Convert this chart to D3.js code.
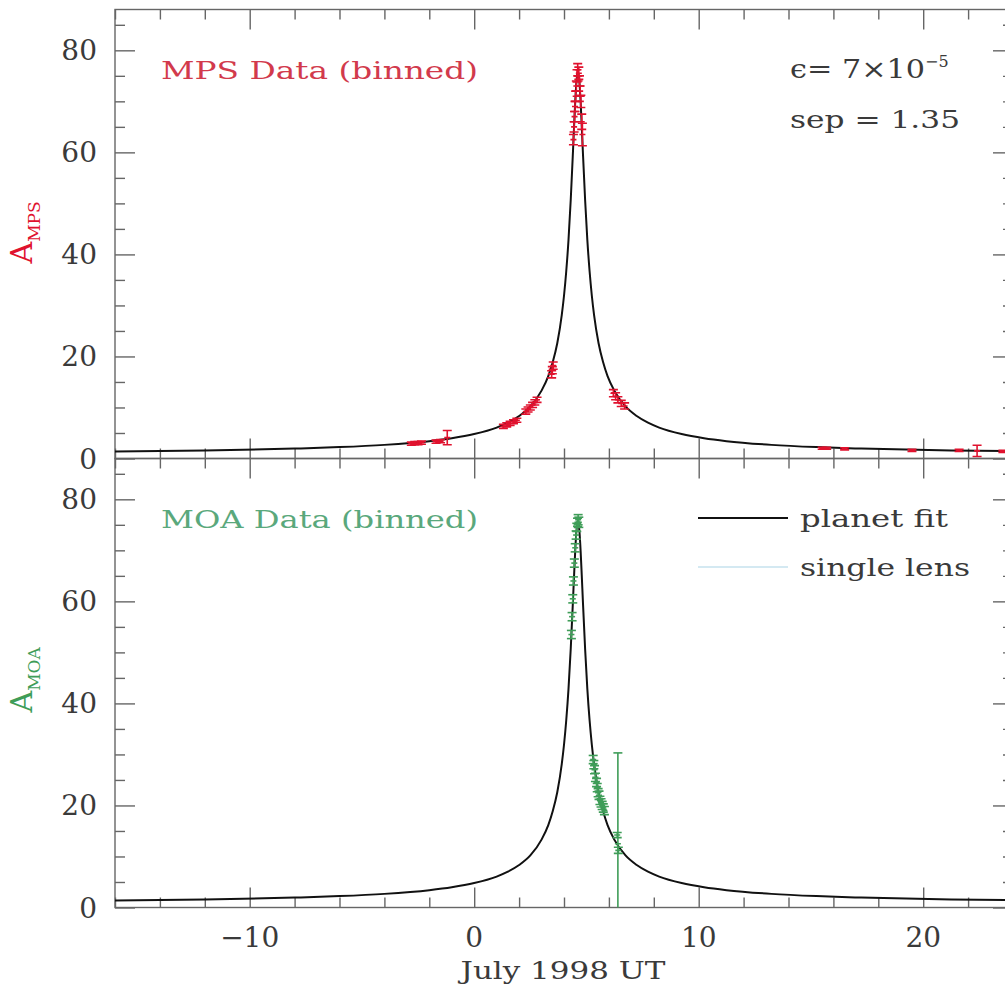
<!DOCTYPE html>
<html>
<head>
<meta charset="utf-8">
<script src="https://cdn.jsdelivr.net/npm/d3@7"></script>
<style>
  body { margin: 0; background: #fff; }
  svg text { font-family: "DejaVu Serif", serif; }
</style>
</head>
<body>
<svg id="chart" width="1005" height="990"></svg>
<script>
// planet fit (t in days, July 1998 UT)
var fitT = [-16, -12, -8, -6, -4, -2, -1, 0, 1, 1.5, 2, 2.5, 3, 3.3, 3.5, 3.7, 3.9, 4.0, 4.1, 4.2, 4.3, 4.4, 4.45, 4.5, 4.55, 4.59, 4.62,
            4.65, 4.69, 4.74, 4.79, 4.84, 4.94, 5.04, 5.14, 5.24, 5.34, 5.54, 5.74, 5.94, 6.24, 6.74, 7.24, 7.74, 8.24, 9.24, 10.24, 11.24, 13.24, 15.24, 17.24, 21.24, 24];
var fitA = [1.38, 1.58, 1.94, 2.23, 2.67, 3.40, 3.97, 4.79, 6.06, 7.01, 8.32, 10.2, 13.3, 16.15, 18.9, 22.6, 28.1, 31.9, 36.7, 42.8, 50.7, 60.2, 65.2, 69.9, 73.6, 75.3, 75.8,
            75.3, 73.6, 69.9, 65.2, 60.2, 50.7, 42.8, 36.7, 31.9, 28.1, 22.6, 18.9, 16.15, 13.3, 10.2, 8.32, 7.01, 6.06, 4.79, 3.97, 3.40, 2.67, 2.23, 1.94, 1.58, 1.43];

// MPS binned points
var mpsT = [-2.8, -2.65, -2.5, -2.35, -1.7, -1.5, -1.2, 1.3, 1.45, 1.6, 1.75, 1.9, 2.3, 2.4, 2.5, 2.6, 2.7, 2.8, 3.45, 3.48, 3.52,
            4.42, 4.45, 4.47, 4.49, 4.52, 4.55, 4.58, 4.61, 4.66, 4.69, 4.72, 4.75, 4.79, 4.82,
            6.2, 6.3, 6.4, 6.55, 6.7, 15.5, 15.7, 16.5, 19.5, 21.6, 22.4, 23.55];
var mpsA = [2.9, 3.0, 3.0, 3.1, 3.3, 3.4, 4.1, 6.3, 6.6, 6.9, 7.2, 7.5, 9.2, 9.6, 10.0, 10.5, 11.0, 11.5, 16.5, 17.3, 18.2,
            62.5, 65, 67, 69, 71, 73, 75, 76.2, 75.5, 74, 72, 70, 66, 63.5,
            12.8, 12.2, 11.5, 10.8, 10.3, 2.0, 2.0, 1.9, 1.6, 1.6, 1.5, 1.4];
var mpsErr = [0.3, 0.3, 0.3, 0.3, 0.3, 0.3, 1.4, 0.4, 0.4, 0.4, 0.4, 0.4, 0.5, 0.5, 0.5, 0.5, 0.5, 0.5, 0.7, 0.7, 0.7,
              1.0, 1.0, 1.0, 1.0, 1.0, 1.0, 1.2, 1.2, 1.2, 1.0, 1.0, 1.2, 1.5, 2.2,
              0.7, 0.7, 0.6, 0.6, 0.6, 0.2, 0.2, 0.2, 0.2, 0.2, 1.1, 0.2];

// MOA binned points
var moaT = [4.33, 4.36, 4.39, 4.42, 4.46, 4.50, 4.54, 4.57, 4.60, 4.63, 4.66,
            5.30, 5.33, 5.36, 5.40, 5.45, 5.48, 5.52, 5.56, 5.60, 5.65, 5.70, 5.75, 5.80,
            6.37, 6.42, 6.40];
var moaA = [53.5, 57, 60.5, 64, 67.5, 70.5, 73, 74.5, 75.5, 76, 75.5,
            29, 28, 27, 25.5, 24.5, 23.5, 22.5, 22, 21, 20.5, 20, 19.5, 19,
            14.2, 11.2, 12.5];
var moaErr = [0.8, 0.8, 0.8, 0.8, 0.8, 0.8, 0.8, 0.8, 0.8, 1.0, 1.0,
              0.8, 0.8, 0.8, 0.8, 0.8, 0.8, 0.8, 0.8, 0.8, 0.8, 0.8, 0.8, 0.8,
              0.5, 0.6, 17.8];

var xDomain = [-16, 24];
var yDomain = [0, 88];
var xMajor = [-10, 0, 10, 20];
var yMajor = [0, 20, 40, 60, 80];

// layout
var left = 115, right = 1013, panelH = 449;
var panels = [
    { top: 9.5, name: 'MPS', t: mpsT, a: mpsA, err: mpsErr, color: '#e0122e', textColor: '#d23a4c', title: 'MPS Data (binned)' },
    { top: 458.5, name: 'MOA', t: moaT, a: moaA, err: moaErr, color: '#3f9d58', textColor: '#5aa87c', title: 'MOA Data (binned)' }
];

var svg = d3.select('#chart');
var x = d3.scaleLinear().domain(xDomain).range([left, right]);
var axisColor = '#666';
var inkColor = '#3a3a3a';

function range(a, b, step) {
    var out = [];
    for (var v = a; v <= b + 1e-9; v += step) out.push(v);
    return out;
}
var xMinor = range(-16, 24, 2).filter(function(v){ return v % 10 !== 0; });
var yMinor = range(0, 88, 5).filter(function(v){ return v % 20 !== 0; });

var fit = fitT.map(function(t, i){ return { t: t, a: fitA[i] }; });

panels.forEach(function(p, pi) {
    var y = d3.scaleLinear().domain(yDomain).range([p.top + panelH, p.top]);
    var g = svg.append('g');

    // clip to the frame
    var clipId = 'clip' + pi;
    svg.append('clipPath').attr('id', clipId).append('rect')
        .attr('x', left).attr('y', p.top).attr('width', right - left).attr('height', panelH);

    // frame
    g.append('rect')
        .attr('x', left).attr('y', p.top).attr('width', right - left).attr('height', panelH)
        .attr('fill', 'none').attr('stroke', axisColor).attr('stroke-width', 1.4);

    // ticks, all pointing inward
    function drawAxis(axis, transform, size, values) {
        var a = g.append('g').attr('transform', transform)
            .call(axis.tickValues(values).tickSize(size).tickSizeOuter(0).tickFormat(''));
        a.select('.domain').remove();
        a.selectAll('line').attr('stroke', axisColor).attr('stroke-width', 1.4);
        return a;
    }
    drawAxis(d3.axisBottom(x), 'translate(0,' + (p.top + panelH) + ')', -20, xMajor);
    drawAxis(d3.axisBottom(x), 'translate(0,' + (p.top + panelH) + ')', -10, xMinor);
    drawAxis(d3.axisTop(x), 'translate(0,' + p.top + ')', -20, xMajor);
    drawAxis(d3.axisTop(x), 'translate(0,' + p.top + ')', -10, xMinor);
    drawAxis(d3.axisLeft(y), 'translate(' + left + ',0)', -20, yMajor);
    drawAxis(d3.axisLeft(y), 'translate(' + left + ',0)', -10, yMinor);
    drawAxis(d3.axisRight(y), 'translate(' + right + ',0)', -20, yMajor);
    drawAxis(d3.axisRight(y), 'translate(' + right + ',0)', -10, yMinor);

    // y tick labels
    g.selectAll('.ylab').data(yMajor).enter().append('text')
        .attr('x', 97).attr('y', function(d){ return y(d) + 10; })
        .attr('text-anchor', 'end').attr('font-size', 28).attr('fill', inkColor)
        .text(function(d){ return d; });

    // y axis title
    var yt = g.append('text')
        .attr('transform', 'translate(32,' + (p.top + 254) + ') rotate(-90)')
        .attr('fill', p.color).attr('font-family', 'DejaVu Sans');
    yt.append('tspan').attr('font-size', 30).text('A');
    yt.append('tspan').attr('font-size', 17).attr('dy', 8).text(p.name);

    var plot = g.append('g').attr('clip-path', 'url(#' + clipId + ')');

    // fit curve
    plot.append('path').datum(fit)
        .attr('fill', 'none').attr('stroke', '#111').attr('stroke-width', 2)
        .attr('d', d3.line().curve(d3.curveMonotoneX)
            .x(function(d){ return x(d.t); }).y(function(d){ return y(d.a); }));

    // error bars
    var pts = p.t.map(function(t, i){ return { t: t, a: p.a[i], e: p.err[i] }; });
    var eb = plot.selectAll('.eb').data(pts).enter().append('g')
        .attr('stroke', p.color).attr('stroke-width', 1.6);
    eb.append('line')
        .attr('x1', function(d){ return x(d.t); }).attr('x2', function(d){ return x(d.t); })
        .attr('y1', function(d){ return y(d.a - d.e); }).attr('y2', function(d){ return y(d.a + d.e); });
    [-1, 1].forEach(function(s) {
        eb.append('line')
            .attr('x1', function(d){ return x(d.t) - 4.5; }).attr('x2', function(d){ return x(d.t) + 4.5; })
            .attr('y1', function(d){ return y(d.a + s * d.e); }).attr('y2', function(d){ return y(d.a + s * d.e); });
    });
    eb.append('line')
        .attr('x1', function(d){ return x(d.t) - 3; }).attr('x2', function(d){ return x(d.t) + 3; })
        .attr('y1', function(d){ return y(d.a); }).attr('y2', function(d){ return y(d.a); });

    // panel title
    g.append('text').attr('x', 161).attr('y', p.top + 69)
        .attr('font-size', 24).attr('fill', p.textColor)
        .attr('textLength', 317).attr('lengthAdjust', 'spacingAndGlyphs')
        .text(p.title);
});

// x tick labels and title
svg.selectAll('.xlab').data(xMajor).enter().append('text')
    .attr('x', function(d){ return x(d); }).attr('y', 947)
    .attr('text-anchor', 'middle').attr('font-size', 28).attr('fill', inkColor)
    .text(function(d){ return d < 0 ? '\u2212' + Math.abs(d) : d; });
svg.append('text').attr('x', 563).attr('y', 979)
    .attr('text-anchor', 'middle').attr('font-size', 25).attr('fill', inkColor)
    .attr('textLength', 205).attr('lengthAdjust', 'spacingAndGlyphs')
    .text('July 1998 UT');

// fit parameters
var par = svg.append('text').attr('x', 790).attr('y', 78).attr('font-size', 26).attr('fill', inkColor);
par.append('tspan').attr('textLength', 135).attr('lengthAdjust', 'spacingAndGlyphs').text('\u03f5= 7\u00d710');
par.append('tspan').attr('font-size', 16).attr('dy', -11).text('\u22125');
svg.append('text').attr('x', 790).attr('y', 128).attr('font-size', 24).attr('fill', inkColor)
    .attr('textLength', 170).attr('lengthAdjust', 'spacingAndGlyphs')
    .text('sep = 1.35');

// legend
var legend = [
    { label: 'planet fit', color: '#111', width: 2, y: 518, len: 148 },
    { label: 'single lens', color: '#a9d3e6', width: 1.2, y: 567, len: 170 }
];
legend.forEach(function(l) {
    svg.append('line').attr('x1', 698).attr('x2', 788).attr('y1', l.y).attr('y2', l.y)
        .attr('stroke', l.color).attr('stroke-width', l.width);
    svg.append('text').attr('x', 800).attr('y', l.y + 9).attr('font-size', 24).attr('fill', inkColor)
        .attr('textLength', l.len).attr('lengthAdjust', 'spacingAndGlyphs')
        .text(l.label);
});
</script>
</body>
</html>
